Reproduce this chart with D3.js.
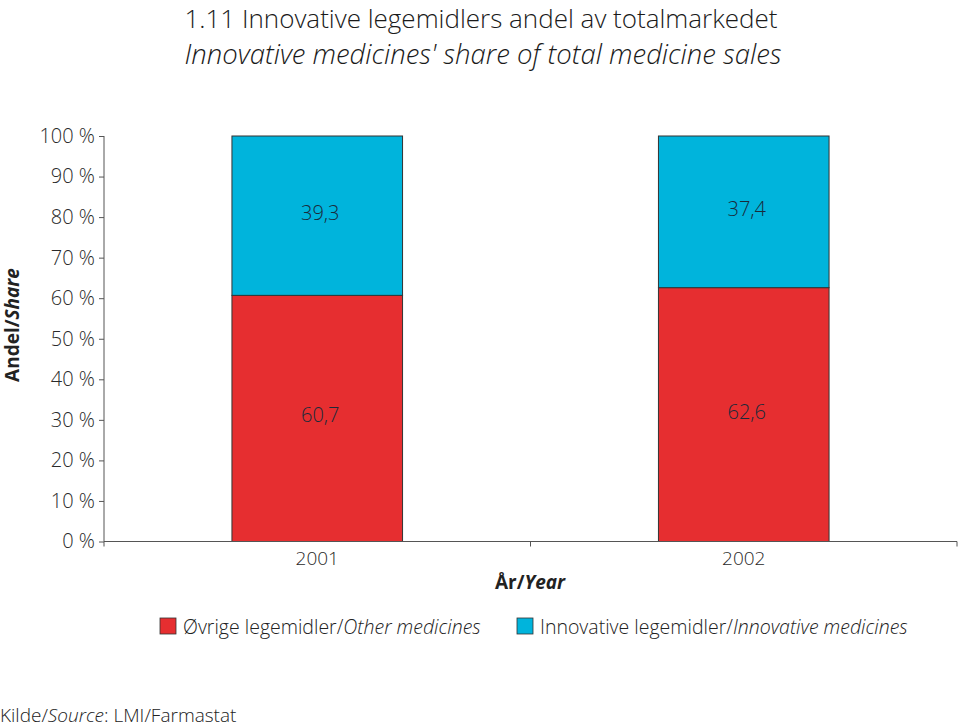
<!DOCTYPE html>
<html><head><meta charset="utf-8">
<script src="https://cdn.jsdelivr.net/npm/d3@7"></script>
<style>body{margin:0;background:#fff}svg{display:block}text{font-family:"Open Sans",sans-serif;fill:#222}</style>
</head><body><svg id="c" width="960" height="727"></svg>
<script>
const years = ["2001", "2002"];
const otherValues = [60.7, 62.6];
const innovativeValues = [39.3, 37.4];
const yTicks = [0, 10, 20, 30, 40, 50, 60, 70, 80, 90, 100];
const seriesNames = ["Øvrige legemidler/", "Innovative legemidler/"];
const seriesItalic = ["Other medicines", "Innovative medicines"];
const colors = ["#E62E30", "#00B4DC"];

const svg = d3.select("#c");
const L = 104, R = 957, T = 136, B = 541.5;
const x = d3.scaleBand().domain(years).range([L, R]).padding(0);
const y = d3.scaleLinear().domain([0, 100]).range([B, T]);

// titles
svg.append("text").attr("x", 481).attr("y", 28).attr("text-anchor", "middle")
  .style("font-size", "26px").style("font-weight", 300).style("fill", "#1a1a1a").text("1.11 Innovative legemidlers andel av totalmarkedet");
svg.append("text").attr("x", 483).attr("y", 64).attr("text-anchor", "middle")
  .style("font-size", "27.5px").style("font-style", "italic").style("font-weight", 300).style("fill", "#1a1a1a").text("Innovative medicines' share of total medicine sales");

// stacked data
const rows = years.map((yr, i) => ({year: yr, other: otherValues[i], innov: innovativeValues[i]}));
const stack = d3.stack().keys(["other", "innov"])(rows);
const bw = x.bandwidth() * 0.4;
stack.forEach((s, si) => {
  svg.append("g").selectAll("rect").data(s).join("rect")
    .attr("x", d => x(d.data.year) + (x.bandwidth() - bw) / 2)
    .attr("y", d => y(d[1]))
    .attr("width", bw)
    .attr("height", d => y(d[0]) - y(d[1]))
    .attr("fill", colors[si]).attr("stroke", "#333").attr("stroke-width", 1);
  svg.append("g").selectAll("text").data(s).join("text")
    .attr("x", d => x(d.data.year) + x.bandwidth() / 2 + 3)
    .attr("y", d => y((d[0] + d[1]) / 2) + 4)
    .attr("text-anchor", "middle").style("font-size", "20px").style("font-weight", 300)
    .style("fill", "#1a2a3a")
    .text(d => (Math.round((d[1] - d[0]) * 10) / 10).toFixed(1).replace(".", ","));
});

// y axis
const yAxis = svg.append("g").attr("transform", `translate(${L},0)`)
  .call(d3.axisLeft(y).tickValues(yTicks).tickSize(5).tickPadding(4).tickFormat(d => d + " %"));
yAxis.select(".domain").attr("stroke", "#555").attr("d", `M0,${B}V${T}`);
yAxis.selectAll(".tick line").attr("stroke", "#555");
yAxis.selectAll(".tick text").style("font-size", "20px").style("font-weight", 300).style("fill", "#2a2a2a").attr("font-family", null);

// x axis
const xAxis = svg.append("g").attr("transform", `translate(0,${B})`)
  .call(d3.axisBottom(x).tickSize(0).tickPadding(10));
xAxis.select(".domain").attr("stroke", "#555").attr("d", `M${L},0H${R}`);
xAxis.selectAll(".tick text").style("font-size", "19px").style("font-weight", 300).style("fill", "#2a2a2a").attr("font-family", null);
const bounds = [L, ...years.slice(1).map(v => x(v)), R];
xAxis.selectAll("line.sep").data(bounds).join("line").attr("class", "sep")
  .attr("x1", d => d).attr("x2", d => d).attr("y1", 0).attr("y2", 5).attr("stroke", "#555");

// axis titles
const yt = svg.append("text").attr("transform", "translate(19,325) rotate(-90)").attr("text-anchor", "middle")
  .style("font-size", "19px").style("font-weight", 700);
yt.append("tspan").text("Andel/");
yt.append("tspan").style("font-style", "italic").text("Share");
const xt = svg.append("text").attr("x", 530).attr("y", 589).attr("text-anchor", "middle")
  .style("font-size", "19px").style("font-weight", 700);
xt.append("tspan").text("År/");
xt.append("tspan").style("font-style", "italic").text("Year");

// legend
const legX = [160, 517];
seriesNames.forEach((n, i) => {
  svg.append("rect").attr("x", legX[i]).attr("y", 618).attr("width", 16).attr("height", 16)
    .attr("fill", colors[i]).attr("stroke", "#333").attr("stroke-width", 0.8);
  const t = svg.append("text").attr("x", legX[i] + 23).attr("y", 634)
    .style("font-size", "19.5px").style("font-weight", 300);
  t.append("tspan").text(n);
  t.append("tspan").style("font-style", "italic").text(seriesItalic[i]);
});

// source
const src = svg.append("text").attr("x", 0).attr("y", 722).style("font-size", "19px").style("font-weight", 300);
src.append("tspan").text("Kilde/");
src.append("tspan").style("font-style", "italic").text("Source");
src.append("tspan").text(": LMI/Farmastat");
</script></body></html>
